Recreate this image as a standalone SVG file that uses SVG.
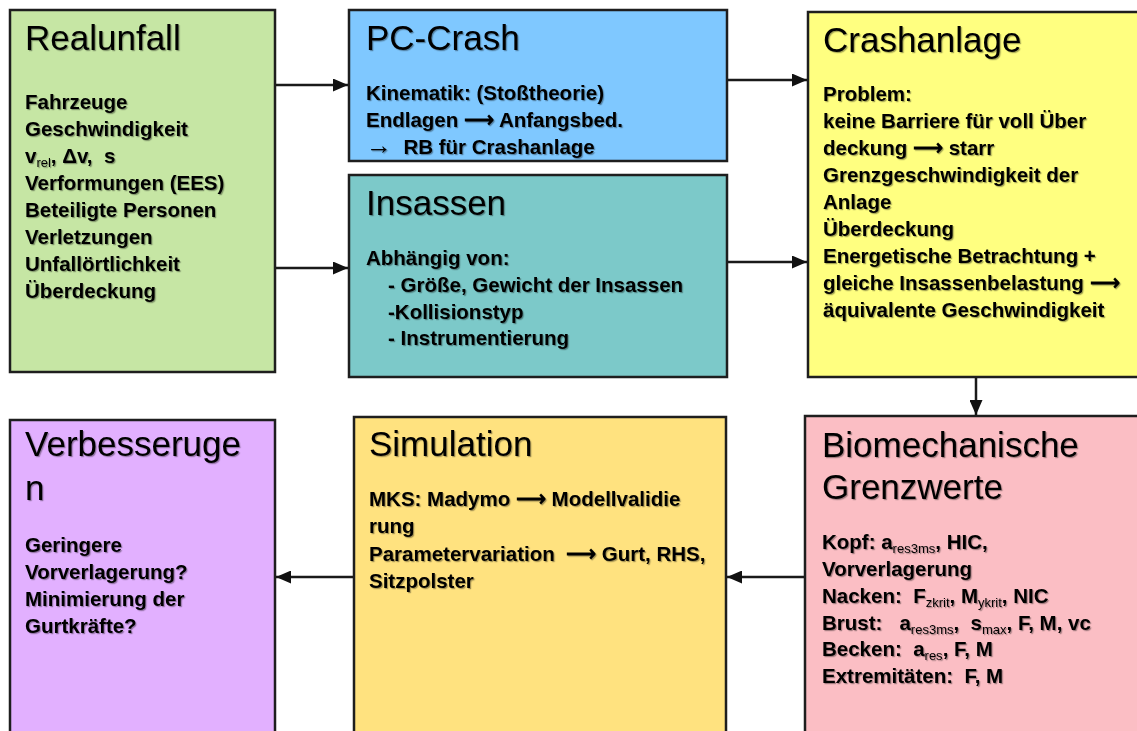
<svg xmlns="http://www.w3.org/2000/svg" width="1137" height="731" viewBox="0 0 1137 731">
<defs>
<marker id="ah" viewBox="0 0 15 13" refX="15" refY="6.5" markerWidth="15" markerHeight="13" markerUnits="userSpaceOnUse" orient="auto">
<path d="M0,0 L15,6.5 L0,13 Z" fill="#111"/>
</marker>
<filter id="sh" x="-5%" y="-5%" width="110%" height="120%">
<feDropShadow dx="1.2" dy="1.2" stdDeviation="0.4" flood-color="#000" flood-opacity="0.35"/>
</filter>
</defs>
<style>
.box{stroke:#1e1e1e;stroke-width:2.5}
.t{font-family:"Liberation Sans",Arial,sans-serif;font-size:35px;fill:#000;filter:url(#sh)}
.b{font-family:"Liberation Sans",Arial,sans-serif;font-size:20.5px;font-weight:bold;fill:#000;filter:url(#sh);white-space:pre}
.s{font-size:13px;font-weight:normal}
.c{fill:none;stroke:#1a1a1a;stroke-width:2.5;marker-end:url(#ah)}
</style>
<rect width="1137" height="731" fill="#fff"/>

<g id="realunfall">
<rect class="box" x="10" y="10" width="265" height="362" fill="#C6E6A4"/>
<text class="t" x="25" y="50">Realunfall</text>
<text class="b" x="25" y="109">Fahrzeuge</text>
<text class="b" x="25" y="136">Geschwindigkeit</text>
<text class="b" x="25" y="163">v<tspan class="s" dy="4">rel</tspan><tspan dy="-4">, Δv,  s</tspan></text>
<text class="b" x="25" y="190">Verformungen (EES)</text>
<text class="b" x="25" y="217">Beteiligte Personen</text>
<text class="b" x="25" y="244">Verletzungen</text>
<text class="b" x="25" y="271">Unfallörtlichkeit</text>
<text class="b" x="25" y="298">Überdeckung</text>
</g>

<g id="pc-crash">
<rect class="box" x="349" y="10" width="378" height="151" fill="#7FC8FF"/>
<text class="t" x="366" y="50">PC-Crash</text>
<text class="b" x="366" y="100">Kinematik: (Stoßtheorie)</text>
<text class="b" x="366" y="127">Endlagen ⟶ Anfangsbed.</text>
<text class="b" x="366" y="154"><tspan style="font-size:26px;font-weight:normal">→</tspan>  RB für Crashanlage</text>
</g>

<g id="insassen">
<rect class="box" x="349" y="175" width="378" height="202" fill="#7CC9C9"/>
<text class="t" x="366" y="215">Insassen</text>
<text class="b" x="366" y="265">Abhängig von:</text>
<text class="b" x="388" y="292">- Größe, Gewicht der Insassen</text>
<text class="b" x="388" y="319">-Kollisionstyp</text>
<text class="b" x="388" y="345">- Instrumentierung</text>
</g>

<g id="crashanlage">
<rect class="box" x="808" y="12" width="340" height="365" fill="#FFFF80"/>
<text class="t" x="823" y="52">Crashanlage</text>
<text class="b" x="823" y="101">Problem:</text>
<text class="b" x="823" y="128">keine Barriere für voll Über</text>
<text class="b" x="823" y="155">deckung ⟶ starr</text>
<text class="b" x="823" y="182">Grenzgeschwindigkeit der</text>
<text class="b" x="823" y="209">Anlage</text>
<text class="b" x="823" y="236">Überdeckung</text>
<text class="b" x="823" y="263">Energetische Betrachtung +</text>
<text class="b" x="823" y="290">gleiche Insassenbelastung ⟶</text>
<text class="b" x="823" y="317">äquivalente Geschwindigkeit</text>
</g>

<g id="verbesserungen">
<rect class="box" x="10" y="420" width="265" height="330" fill="#E2B0FF"/>
<text class="t" x="25" y="456">Verbesseruge</text>
<text class="t" x="25" y="500">n</text>
<text class="b" x="25" y="552">Geringere</text>
<text class="b" x="25" y="579">Vorverlagerung?</text>
<text class="b" x="25" y="606">Minimierung der</text>
<text class="b" x="25" y="633">Gurtkräfte?</text>
</g>

<g id="simulation">
<rect class="box" x="354" y="417" width="372" height="330" fill="#FFE27F"/>
<text class="t" x="369" y="456">Simulation</text>
<text class="b" x="369" y="506">MKS: Madymo ⟶ Modellvalidie</text>
<text class="b" x="369" y="533">rung</text>
<text class="b" x="369" y="561">Parametervariation  ⟶ Gurt, RHS,</text>
<text class="b" x="369" y="588">Sitzpolster</text>
</g>

<g id="biomechanik">
<rect class="box" x="805" y="416" width="345" height="330" fill="#FBBEC4"/>
<text class="t" x="822" y="457">Biomechanische</text>
<text class="t" x="822" y="499">Grenzwerte</text>
<text class="b" x="822" y="549">Kopf: a<tspan class="s" dy="4">res3ms</tspan><tspan dy="-4">, HIC,</tspan></text>
<text class="b" x="822" y="576">Vorverlagerung</text>
<text class="b" x="822" y="603">Nacken:  F<tspan class="s" dy="4">zkrit</tspan><tspan dy="-4">, M</tspan><tspan class="s" dy="4">ykrit</tspan><tspan dy="-4">, NIC</tspan></text>
<text class="b" x="822" y="630">Brust:   a<tspan class="s" dy="4">res3ms</tspan><tspan dy="-4">,  s</tspan><tspan class="s" dy="4">max</tspan><tspan dy="-4">, F, M, vc</tspan></text>
<text class="b" x="822" y="656">Becken:  a<tspan class="s" dy="4">res</tspan><tspan dy="-4">, F, M</tspan></text>
<text class="b" x="822" y="683">Extremitäten:  F, M</text>
</g>

<g id="connectors">
<line class="c" x1="276" y1="85" x2="348" y2="85"/>
<line class="c" x1="276" y1="268" x2="348" y2="268"/>
<line class="c" x1="728" y1="80" x2="807" y2="80"/>
<line class="c" x1="728" y1="262" x2="807" y2="262"/>
<line class="c" x1="976" y1="378" x2="976" y2="415"/>
<line class="c" x1="804" y1="577" x2="727" y2="577"/>
<line class="c" x1="353" y1="577" x2="276" y2="577"/>
</g>
</svg>
